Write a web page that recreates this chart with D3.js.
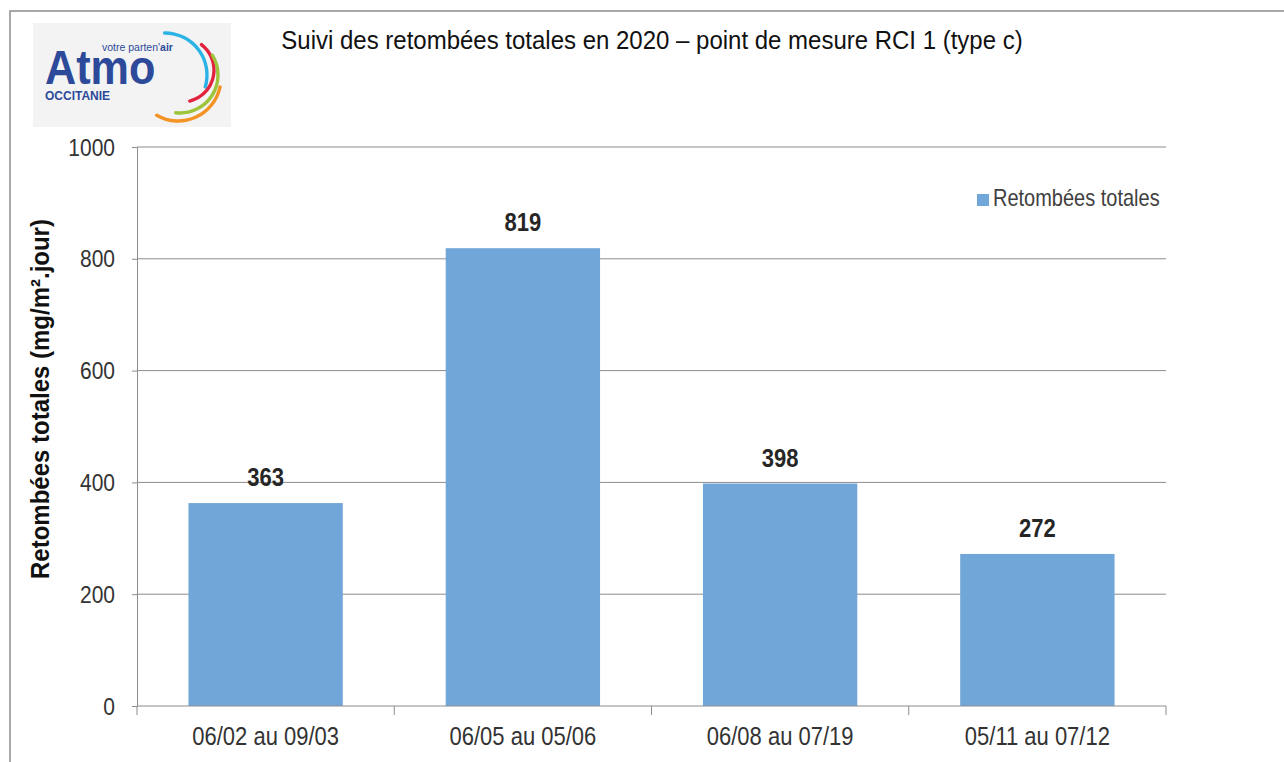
<!DOCTYPE html>
<html><head><meta charset="utf-8">
<script src="https://cdn.jsdelivr.net/npm/d3@7"></script>
<style>body{margin:0;background:#fff;}svg{display:block;}</style>
</head><body>
<script>
const categories = ["06/02 au 09/03","06/05 au 05/06","06/08 au 07/19","05/11 au 07/12"];
const values = [363, 819, 398, 272];
const yTicks = [0, 200, 400, 600, 800, 1000];
const seriesName = "Retombées totales";
const title = "Suivi des retombées totales en 2020 – point de mesure RCI 1 (type c)";
const yTitle = "Retombées totales (mg/m².jour)";

const W = 1284, H = 762;
const FONT = "'Liberation Sans',Arial,sans-serif";
const svg = d3.select("body").append("svg").attr("width", W).attr("height", H);
svg.append("rect").attr("width", W).attr("height", H).attr("fill", "#fff");

// text helper with slight vertical stretch (reference glyphs look tall)
function label(parent, x, y, txt, o) {
  const g = parent.append("g").attr("transform", `translate(${x},${y})` + (o.rotate ? ` rotate(${o.rotate})` : ""));
  return g.append("text").attr("transform", `scale(${o.sx || 1},${o.sy || 1})`)
    .attr("text-anchor", o.anchor || "start").attr("font-family", FONT)
    .attr("font-weight", o.bold ? "bold" : "normal").attr("font-size", o.size)
    .attr("fill", o.fill || "#333").text(txt);
}

// frame
svg.append("rect").attr("x", 10).attr("y", 11).attr("width", 1300).attr("height", 800)
  .attr("fill", "none").attr("stroke", "#8c8c8c").attr("stroke-width", 1.5);

// logo
const logo = svg.append("g");
logo.append("rect").attr("x", 33).attr("y", 23).attr("width", 198).attr("height", 104).attr("fill", "#f3f3f3");
label(logo, 45, 84, "Atmo", {size: 40, bold: true, fill: "#2d4a9a", sy: 1.2, sx: 1.08});
logo.append("text").attr("x", 102).attr("y", 51).attr("font-family", FONT)
  .attr("font-size", 10.5).attr("fill", "#2d4a9a").html("votre parten'<tspan font-weight='bold'>air</tspan>");
logo.append("text").attr("x", 45).attr("y", 100).attr("font-family", FONT)
  .attr("font-weight", "bold").attr("font-size", 12).attr("fill", "#2d4a9a").text("OCCITANIE");
const arcs = [
  {cx: 165, cy: 75, r: 42, a0: -0.05, a1: 1.9, c: "#2bb3e6"},
  {cx: 182, cy: 70, r: 32, a0: 0.6, a1: 2.95, c: "#e3233e"},
  {cx: 180, cy: 75, r: 38, a0: 0.98, a1: 3.3, c: "#9dc43a"},
  {cx: 178, cy: 78, r: 43, a0: 1.74, a1: 3.7, c: "#f39325"}
];
arcs.forEach(a => {
  logo.append("path").attr("transform", `translate(${a.cx},${a.cy})`)
    .attr("d", d3.arc().innerRadius(a.r - 1.7).outerRadius(a.r + 1.7).startAngle(a.a0).endAngle(a.a1).cornerRadius(1.7)())
    .attr("fill", a.c);
});

// title
label(svg, 652, 49, title, {size: 24, anchor: "middle", fill: "#111", sy: 1.05});

// scales
const x = d3.scaleBand().domain(categories).range([137, 1166]).paddingInner(0.4).paddingOuter(0.2);
const y = d3.scaleLinear().domain([0, 1000]).range([706, 147]);

// gridlines
svg.append("g").selectAll("line").data(yTicks.filter(d => d > 0)).join("line")
  .attr("x1", 137).attr("x2", 1166).attr("y1", d => y(d)).attr("y2", d => y(d))
  .attr("stroke", "#8c8c8c").attr("stroke-width", 1);

// bars
svg.append("g").selectAll("rect").data(values).join("rect")
  .attr("x", (d, i) => x(categories[i])).attr("width", x.bandwidth())
  .attr("y", d => y(d)).attr("height", d => y(0) - y(d)).attr("fill", "#70a6d8");

// data labels
const dl = svg.append("g");
values.forEach((v, i) => {
  label(dl, x(categories[i]) + x.bandwidth() / 2, y(v) - 17, v, {size: 22, bold: true, anchor: "middle", fill: "#262626", sy: 1.18});
});

// y axis
const yAxis = svg.append("g").attr("transform", "translate(137,0)")
  .call(d3.axisLeft(y).tickValues(yTicks).tickSize(5).tickFormat("").tickSizeOuter(0));
yAxis.select(".domain").attr("stroke", "#8c8c8c");
yAxis.selectAll(".tick line").attr("stroke", "#8c8c8c");
const yl = svg.append("g");
yTicks.forEach(t => label(yl, 115, y(t) + 8.5, d3.format("d")(t), {size: 21, anchor: "end", fill: "#333", sy: 1.15}));

// x axis
const catW = (1166 - 137) / categories.length;
const xAxisG = svg.append("g").attr("transform", "translate(0,706)");
xAxisG.append("line").attr("x1", 137).attr("x2", 1166).attr("stroke", "#8c8c8c");
xAxisG.selectAll("line.t").data(d3.range(categories.length + 1)).join("line").attr("class", "t")
  .attr("x1", i => 137 + i * catW).attr("x2", i => 137 + i * catW).attr("y1", 0).attr("y2", 9)
  .attr("stroke", "#8c8c8c");
const xl = svg.append("g");
categories.forEach(c => label(xl, x(c) + x.bandwidth() / 2, 745, c, {size: 22, anchor: "middle", fill: "#333", sy: 1.15}));

// y title
label(svg, 49, 399, yTitle, {size: 24, bold: true, anchor: "middle", fill: "#111", rotate: -90, sy: 1.1});

// legend
svg.append("rect").attr("x", 977).attr("y", 194).attr("width", 12).attr("height", 12).attr("fill", "#70a6d8");
label(svg, 993, 206, seriesName, {size: 20, fill: "#404040", sy: 1.18});
</script>
</body></html>
